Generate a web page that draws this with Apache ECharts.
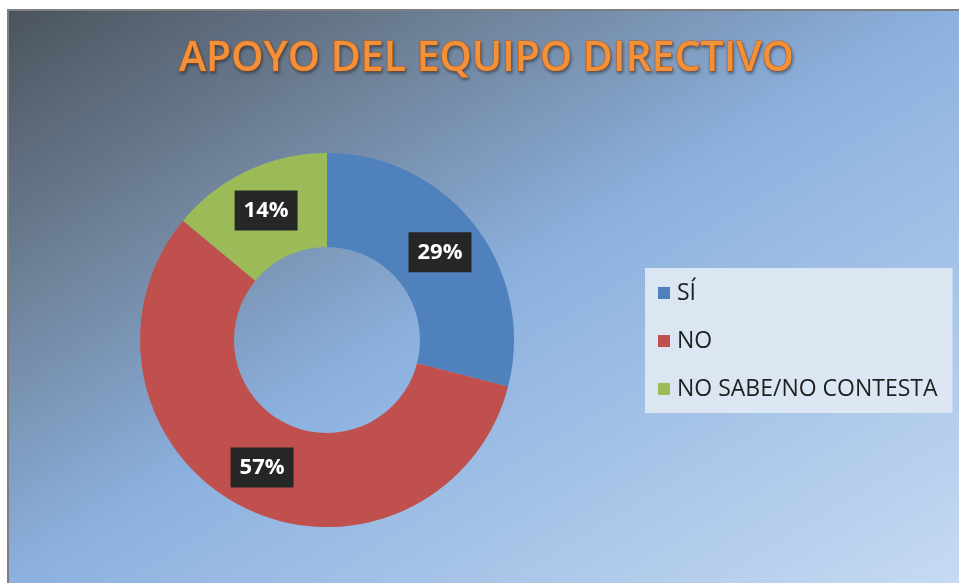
<!DOCTYPE html>
<html lang="es">
<head>
    <meta charset="UTF-8">
    <title>Apoyo del equipo directivo</title>
    <script src="https://cdn.jsdelivr.net/npm/echarts@6/dist/echarts.min.js"></script>
    <style>
        html, body { margin: 0; padding: 0; background: #fff; }
        #chart { width: 959px; height: 583px; }
    </style>
</head>
<body>
    <div id="chart"></div>
    <script>
        // datos del gráfico
        const categorias = ['SÍ', 'NO', 'NO SABE/NO CONTESTA'];
        const porcentajes = [29, 57, 14];
        const colores = ['#4f81bd', '#c0504d', '#9bbb59'];

        const chart = echarts.init(document.getElementById('chart'));

        // fondo degradado: oscuro arriba a la izquierda, azul claro abajo a la derecha
        const fondo = new echarts.graphic.LinearGradient(8, 10, 515, 851, [
            { offset: 0, color: '#4b545d' },
            { offset: 0.25, color: '#6f8299' },
            { offset: 0.5, color: '#8cb1df' },
            { offset: 1, color: '#c6daf2' }
        ], true);

        const option = {
            backgroundColor: '#ffffff',
            color: colores,
            graphic: [{
                type: 'rect',
                z: -10,
                shape: { x: 8, y: 10, width: 960, height: 580 },
                style: {
                    fill: fondo,
                    stroke: '#7f7f7f',
                    lineWidth: 2
                }
            }],
            title: {
                text: 'APOYO DEL EQUIPO DIRECTIVO',
                left: 174,
                top: 34,
                padding: 5,
                textStyle: {
                    fontFamily: 'Open Sans',
                    fontSize: 41,
                    fontWeight: 600,
                    color: '#f3903a',
                    textBorderColor: '#c9621a',
                    textBorderWidth: 1,
                    textShadowColor: 'rgba(0,0,0,0.35)',
                    textShadowBlur: 3,
                    textShadowOffsetX: 1,
                    textShadowOffsetY: 2
                }
            },
            legend: {
                orient: 'vertical',
                left: 645,
                top: 268,
                padding: [13, 15, 12, 13],
                backgroundColor: 'rgba(225, 233, 244, 0.92)',
                itemWidth: 12,
                itemHeight: 12,
                itemGap: 24,
                icon: 'rect',
                data: categorias,
                textStyle: {
                    fontFamily: 'Open Sans',
                    fontSize: 23,
                    lineHeight: 24,
                    padding: [0, 0, 0, 2],
                    color: '#1f1f1f'
                }
            },
            series: [{
                type: 'pie',
                center: [327, 340],
                radius: [93, 187],
                startAngle: 90,
                clockwise: true,
                silent: true,
                data: categorias.map((c, i) => ({ name: c, value: porcentajes[i] })),
                label: {
                    position: 'inside',
                    formatter: p => p.value + '%',
                    fontFamily: 'Open Sans',
                    fontSize: 22,
                    fontWeight: 'bold',
                    color: '#ffffff',
                    backgroundColor: '#262626',
                    padding: [8, 9, 8, 9],
                    lineHeight: 24
                },
                labelLine: { show: false }
            }]
        };

        chart.setOption(option);
    </script>
</body>
</html>
